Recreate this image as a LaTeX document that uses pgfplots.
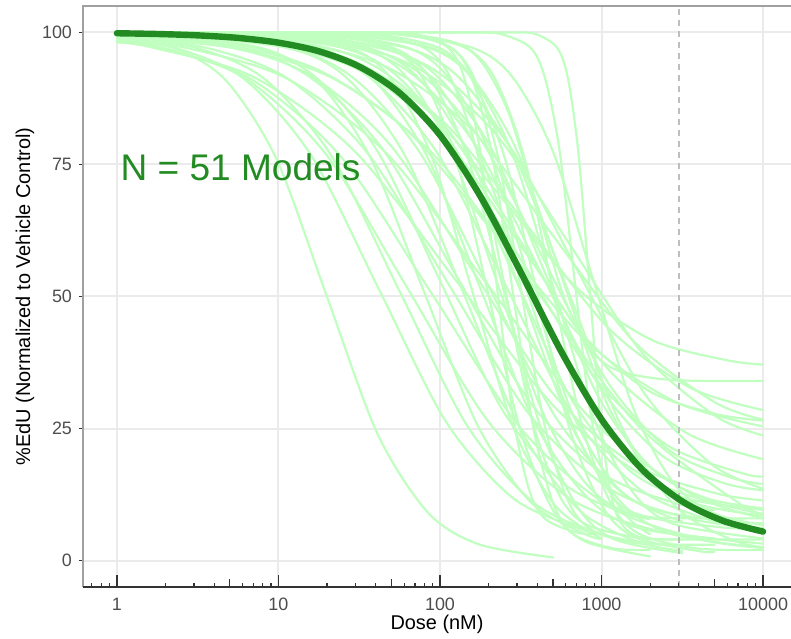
\documentclass[border=0pt]{standalone}
\usepackage{pgfplots}
\pgfplotsset{compat=1.18}
\usepackage{fontspec}
\setmainfont{Liberation Sans}
\definecolor{lightg}{HTML}{C1FFC1}
\definecolor{darkg}{HTML}{228B22}
\definecolor{gridc}{HTML}{EBEBEB}
\definecolor{ticklab}{HTML}{4D4D4D}
\definecolor{axgray}{HTML}{A0A0A0}
\definecolor{axdark}{HTML}{333333}
\definecolor{dashc}{HTML}{BEBEBE}
\pgfplotsset{lc/.style={draw=lightg, line width=1.1bp, smooth, mark=none, line join=round, line cap=round}}
\begin{document}
\begin{tikzpicture}
\begin{axis}[
 name=main,
 scale only axis, width=354bp, height=290.5bp,
 xmin=-0.21, xmax=4.173, ymin=-5, ymax=105,
 clip=false,
 axis line style={draw=none},
 xtick={0,1,2,3,4}, xticklabels={1,10,100,1000,10000},
 ytick={0,25,50,75,100}, yticklabels={0,25,50,75,100},
 tick align=outside, major tick length=2bp,
 xtick style={draw=none},
 ytick style={draw=axdark, line width=0.5bp},
 xtick pos=left, ytick pos=left,
 grid=major, major grid style={draw=gridc, line width=1bp},
 tick label style={font=\fontsize{9}{10}\selectfont, text=ticklab},
 /pgf/number format/assume math mode=true,
 label style={font=\fontsize{11}{13}\selectfont},
 xlabel={Dose (nM)}, ylabel={\%EdU (Normalized to Vehicle Control)},
 every axis x label/.style={at={(axis description cs:0.5,0)}, yshift=-18.5bp, anchor=center},
 every axis y label/.style={at={(axis description cs:-0.0819,0.5)}, rotate=90, anchor=center},
]
\addplot[lc] coordinates {(0,99.2)(0.363,96.9)(0.675,90.9)(0.988,76.0)(1.300,50.0)(1.613,24.0)(1.925,9.1)(2.238,3.1)(2.7,0.6)};
\addplot[lc] coordinates {(0,99.2)(0.5,97.0)(0.917,91.1)(1.333,76.4)(1.75,51.0)(2.167,25.6)(2.583,10.9)(3.0,5.0)(3.3,3.3)};
\addplot[lc] coordinates {(0,98.9)(0.37,97.0)(0.787,91.2)(1.203,76.7)(1.62,51.5)(2.037,26.3)(2.453,11.8)(2.87,6.0)(3.0,5.1)};
\addplot[lc] coordinates {(0,98.3)(0.283,97.0)(0.839,91.0)(1.394,76.2)(1.95,50.5)(2.506,24.8)(3.061,10.0)(3.617,4.0)(4,2.4)};
\addplot[lc] coordinates {(0,99.2)(0.55,97.1)(1.05,91.4)(1.55,77.2)(2.05,52.5)(2.55,27.8)(3.05,13.6)(3.55,7.9)(4,6.1)};
\addplot[lc] coordinates {(0,99.5)(0.736,97.2)(1.191,91.6)(1.645,77.9)(2.1,54.0)(2.555,30.1)(3.009,16.4)(3.464,10.8)(3.7,9.6)};
\addplot[lc] coordinates {(0,99.4)(0.7,97.2)(1.2,91.8)(1.7,78.4)(2.2,55.0)(2.7,31.6)(3.2,18.2)(3.7,12.8)(4,11.4)};
\addplot[lc] coordinates {(0,99.8)(0.217,99.7)(1.05,97.1)(1.467,91.3)(1.883,76.9)(2.3,52.0)(2.717,27.1)(3.133,12.7)(3.5,7.4)};
\addplot[lc] coordinates {(0,99.9)(0.233,99.7)(0.9,97.0)(1.233,91.1)(1.567,76.4)(1.9,51.0)(2.233,25.6)(2.567,10.9)(2.9,5.0)(3.0,4.1)};
\addplot[lc] coordinates {(0,99.8)(0.077,99.7)(0.846,97.1)(1.231,91.5)(1.615,77.4)(2.0,53.0)(2.385,28.6)(2.769,14.5)(3.154,8.9)(3.3,7.9)};
\addplot[lc] coordinates {(0,100)(0.583,99.7)(1.25,97.0)(1.583,91.2)(1.917,76.7)(2.25,51.5)(2.583,26.3)(2.917,11.8)(3.25,6.0)(4,3.2)};
\addplot[lc] coordinates {(0,100)(0.4,99.97)(0.961,99.7)(1.517,97.1)(1.794,91.5)(2.072,77.4)(2.35,53.0)(2.628,28.6)(2.906,14.5)(3.183,8.9)(3.739,6.3)(4,6.1)};
\addplot[lc] coordinates {(0,100)(0.8,99.97)(1.264,99.7)(1.718,97.0)(1.945,91.0)(2.173,76.2)(2.4,50.5)(2.627,24.8)(2.855,10.0)(3.082,4.0)(3.5,1.4)};
\addplot[lc] coordinates {(0,100)(0.664,99.7)(1.379,97.2)(1.736,91.7)(2.093,78.1)(2.45,54.5)(2.807,30.9)(3.164,17.3)(3.521,11.8)(4,9.6)};
\addplot[lc] coordinates {(0,100)(0.4,99.97)(0.938,99.7)(1.563,97.0)(1.875,91.1)(2.188,76.4)(2.5,51.0)(2.813,25.6)(3.125,10.9)(3.438,5.0)(4,2.4)};
\addplot[lc] coordinates {(0,100)(0.8,99.97)(1.3,99.7)(1.8,97.1)(2.05,91.5)(2.3,77.7)(2.55,53.5)(2.8,29.3)(3.05,15.5)(3.3,9.9)(3.8,7.3)(4,7.1)};
\addplot[lc] coordinates {(0,100)(0.6,100)(0.95,99.96)(1.3,99.7)(1.7,96.9)(1.9,91.0)(2.1,76.1)(2.3,50.3)(2.5,24.4)(2.7,9.5)(2.9,3.6)(3.3,0.8)};
\addplot[lc] coordinates {(0,100)(0.8,100)(1.2,99.97)(1.567,99.7)(1.9,97.1)(2.067,91.3)(2.233,76.9)(2.4,52.0)(2.567,27.1)(2.733,12.7)(2.9,6.9)(3.233,4.3)(3.5,4.0)};
\addplot[lc] coordinates {(0,100)(1.0,100)(1.6,99.96)(1.825,99.7)(2.075,97.0)(2.2,91.1)(2.325,76.4)(2.45,51.0)(2.575,25.6)(2.7,10.9)(2.825,5.0)(3.075,2.3)(3.3,2.0)};
\addplot[lc] coordinates {(0,100)(1.0,100)(1.65,99.97)(1.85,99.7)(2.05,97.1)(2.15,91.4)(2.25,77.2)(2.35,52.5)(2.45,27.8)(2.55,13.6)(2.65,7.9)(2.85,5.3)(3.0,5.0)};
\addplot[lc] coordinates {(0,100)(0.677,99.7)(1.446,97.3)(1.831,92.0)(2.215,78.9)(2.6,56.0)(2.985,33.1)(3.369,20.0)(3.754,14.7)(4,13.3)};
\addplot[lc] coordinates {(0,100)(0.4,99.96)(0.983,99.7)(1.65,97.2)(1.983,91.7)(2.317,78.1)(2.65,54.5)(2.983,30.9)(3.317,17.3)(3.65,11.8)(4,9.9)};
\addplot[lc] coordinates {(0,100)(0.45,100)(0.95,99.97)(1.45,99.7)(1.95,97.1)(2.2,91.3)(2.45,76.9)(2.7,52.0)(2.95,27.1)(3.2,12.7)(3.45,6.9)(4,4.2)};
\addplot[lc] coordinates {(0,99.8)(0.227,99.7)(1.136,97.4)(1.591,92.2)(2.045,79.3)(2.5,57.0)(2.955,34.7)(3.409,21.8)(3.864,16.6)(4,15.9)};
\addplot[lc] coordinates {(0,100)(0.8,100)(1.2,99.97)(1.6,99.7)(2.0,97.0)(2.2,91.0)(2.4,76.3)(2.6,50.8)(2.8,25.2)(3.0,10.5)(3.2,4.5)(3.6,1.8)(3.7,1.7)};
\addplot[lc] coordinates {(0,100)(0.8,99.97)(1.361,99.7)(1.917,97.2)(2.194,91.6)(2.472,77.9)(2.75,54.0)(3.028,30.1)(3.306,16.4)(3.583,10.8)(4,8.5)};
\addplot[lc] coordinates {(0,100)(0.45,99.97)(0.95,99.7)(1.45,97.0)(1.7,91.1)(1.95,76.4)(2.2,51.0)(2.45,25.6)(2.7,10.9)(2.95,5.0)(3.0,4.4)};
\addplot[lc] coordinates {(0,100)(1.0,100)(1.5,99.97)(1.786,99.7)(2.071,97.0)(2.214,91.2)(2.357,76.7)(2.5,51.5)(2.643,26.3)(2.786,11.8)(2.929,6.0)(3.214,3.3)(3.7,3.0)};
\addplot[lc] coordinates {(0,99.9)(0.364,99.7)(1.079,96.9)(1.436,91.0)(1.793,76.1)(2.15,50.3)(2.507,24.4)(2.864,9.5)(3.221,3.6)(3.5,1.8)};
\addplot[lc] coordinates {(0,99.9)(0.317,99.7)(1.15,97.1)(1.567,91.4)(1.983,77.2)(2.4,52.5)(2.817,27.8)(3.233,13.6)(3.65,7.9)(4,6.1)};
\addplot[lc] coordinates {(0,100)(1.0,100)(2.0,100)(2.2,99.97)(2.375,99.7)(2.557,97.2)(2.648,91.6)(2.739,77.9)(2.83,54.0)(2.921,30.1)(3.012,16.4)(3.103,10.8)(3.285,8.3)(3.6,8.0)(4,8.0)};
\addplot[lc] coordinates {(0,100)(1.0,100)(2.0,100)(2.45,99.97)(2.592,99.7)(2.725,97.1)(2.792,91.3)(2.858,76.9)(2.925,52.0)(2.992,27.1)(3.058,12.7)(3.125,6.9)(3.258,4.3)(3.6,4.0)(4,4.0)};
\addplot[lc] coordinates {(0,99.9)(0.127,99.8)(1.036,98.0)(1.491,94.2)(1.945,84.6)(2.4,68.0)(2.855,51.4)(3.309,41.8)(3.764,38.0)(4,37.1)};
\addplot[lc] coordinates {(0,100)(0.9,100)(1.4,99.98)(1.767,99.8)(2.1,98.0)(2.267,94.0)(2.433,84.1)(2.6,67.0)(2.767,49.9)(2.933,40.0)(3.1,36.0)(3.433,34.2)(4,34.0)};
\addplot[lc] coordinates {(0,99.8)(1.05,97.7)(1.55,93.3)(2.05,82.2)(2.55,63.0)(3.05,43.8)(3.55,32.7)(4,28.5)};
\addplot[lc] coordinates {(0,99.9)(0.367,99.8)(1.2,97.7)(1.617,93.2)(2.033,82.1)(2.45,62.8)(2.867,43.4)(3.283,32.3)(3.7,27.8)(4,26.5)};
\addplot[lc] coordinates {(0,99.8)(0.6,99.3)(1.2,97.6)(1.7,93.0)(2.2,81.5)(2.7,61.5)(3.2,41.5)(3.7,30.0)(4,26.7)};
\addplot[lc] coordinates {(0,99.4)(0.683,97.6)(1.239,93.0)(1.794,81.5)(2.35,61.5)(2.906,41.5)(3.461,30.0)(4,25.4)};
\addplot[lc] coordinates {(0,99.9)(0.527,99.7)(1.436,97.5)(1.891,92.7)(2.345,80.8)(2.8,60.0)(3.255,39.2)(3.709,27.3)(4,23.7)};
\addplot[lc] coordinates {(0,99.8)(0.5,99.3)(1.03,97.4)(1.53,92.4)(2.03,79.9)(2.53,58.3)(3.03,36.6)(3.53,24.1)(4,19.2)};
\addplot[lc] coordinates {(0,100)(0.727,99.7)(1.496,97.3)(1.881,92.1)(2.265,79.1)(2.65,56.5)(3.035,33.9)(3.419,20.9)(3.804,15.7)(4,14.5)};
\addplot[lc] coordinates {(0,100)(0.767,99.7)(1.6,97.2)(2.017,91.8)(2.433,78.4)(2.85,55.0)(3.267,31.6)(3.683,18.2)(4,13.6)};
\addplot[lc] coordinates {(0,98.6)(0.425,97.1)(1.05,91.3)(1.675,76.9)(2.3,52.0)(2.925,27.1)(3.55,12.7)(4,8.0)};
\addplot[lc] coordinates {(0,99.2)(0.725,97.0)(1.35,91.1)(1.975,76.4)(2.6,51.0)(3.225,25.6)(3.85,10.9)(4,8.9)};
\addplot[lc] coordinates {(0,98.1)(0.225,97.1)(0.85,91.5)(1.475,77.4)(2.1,53.0)(2.725,28.6)(3.35,14.5)(4,8.8)};
\addplot[lc] coordinates {(0,100)(0.45,99.97)(1.133,99.7)(1.8,97.0)(2.133,91.0)(2.467,76.2)(2.8,50.5)(3.133,24.8)(3.467,10.0)(3.8,4.0)(4,2.5)};
\addplot[lc] coordinates {(0,100)(0.7,100)(1.2,99.97)(1.7,99.7)(2.2,97.1)(2.45,91.5)(2.7,77.4)(2.95,53.0)(3.2,28.6)(3.45,14.5)(3.7,8.9)(4,6.7)};
\addplot[lc] coordinates {(0,100)(0.9,100)(1.45,99.97)(1.807,99.7)(2.164,97.0)(2.343,91.1)(2.521,76.4)(2.7,51.0)(2.879,25.6)(3.057,10.9)(3.236,5.0)(3.593,2.3)(4,2.0)};
\addplot[lc] coordinates {(0,98.5)(0.3,97.0)(0.8,91.2)(1.3,76.7)(1.8,51.5)(2.3,26.3)(2.8,11.8)(3.3,6.0)(3.7,4.2)};
\addplot[lc] coordinates {(0,100)(0.5,99.97)(1.079,99.7)(1.668,96.9)(1.962,90.9)(2.256,76.0)(2.55,50.0)(2.844,24.0)(3.138,9.1)(3.3,5.0)};
% reference dose
\addplot[draw=dashc, mark=none, line width=1bp, dash pattern=on 3bp off 2.5bp] coordinates {(3.477,-5) (3.477,105)};
% pooled fit
\addplot[draw=darkg, mark=none, line width=3.2bp, smooth, line join=round, line cap=round] coordinates {(0,99.84)(0.25,99.70)(0.5,99.44)(0.75,98.96)(1.0,98.06)(1.25,96.43)(1.5,93.53)(1.75,88.54)(2.0,80.56)(2.25,68.99)(2.5,54.60)(2.75,39.63)(3.0,26.74)(3.25,17.30)(3.5,11.20)(3.75,7.56)(4.0,5.49)};
\node[anchor=west, text=darkg, font=\fontsize{18.6}{22}\selectfont, inner sep=0pt] at (axis cs:0.02,74.4) {N = 51 Models};
\draw[axgray, line width=0.75bp] (rel axis cs:0,0) -- (rel axis cs:0,1) -- (rel axis cs:1,1);
\draw[axdark, line width=0.75bp] (rel axis cs:0,0) -- (rel axis cs:1,0);
\end{axis}
\begin{axis}[
 at={(main.south west)}, anchor=south west,
 scale only axis, width=354bp, height=290.5bp,
 xmin=-0.21, xmax=4.173, ymin=-5, ymax=105,
 axis line style={draw=none},
 ytick=\empty, xtick={0,1,2,3,4}, xticklabels={},
 minor xtick={-0.155,-0.097,-0.046,0.301,0.477,0.602,0.778,0.845,0.903,0.954,1.301,1.477,1.602,1.778,1.845,1.903,1.954,2.301,2.477,2.602,2.778,2.845,2.903,2.954,3.301,3.477,3.602,3.778,3.845,3.903,3.954},
 extra x ticks={0.699,1.699,2.699,3.699}, extra x tick labels={},
 extra x tick style={major tick length=4bp},
 tick align=inside, major tick length=6bp, minor tick length=2bp,
 xtick pos=left,
 every tick/.style={draw=axdark, line width=0.6bp},
]
\end{axis}
\pgfresetboundingbox
\path[use as bounding box] ([xshift=-41.5bp,yshift=-26bp]main.south west) rectangle ([yshift=3bp]main.north east);
\end{tikzpicture}
\end{document}
